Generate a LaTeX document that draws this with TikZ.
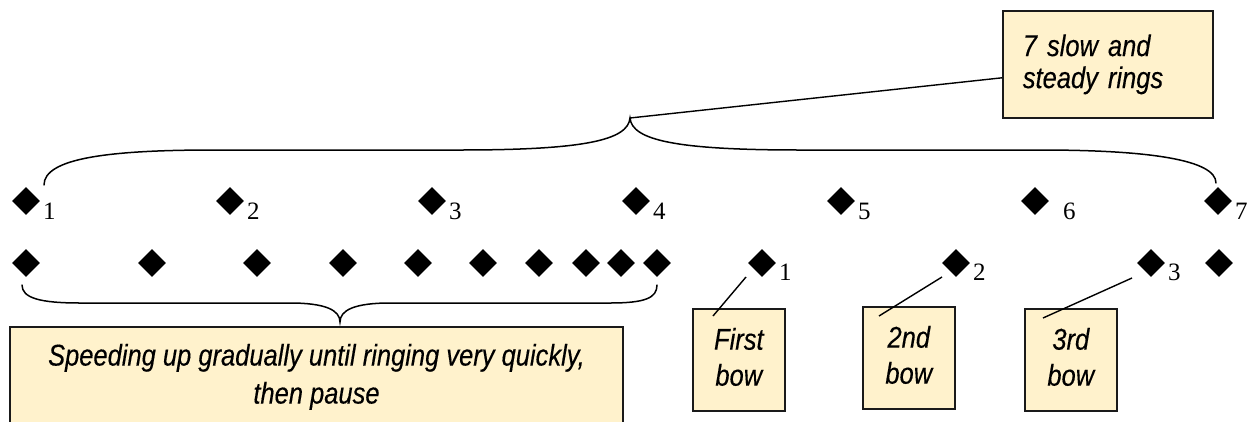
\documentclass[tikz,border=0pt]{standalone}
\usepackage{fontspec}
\usetikzlibrary{shapes.geometric,calc}
\newfontfamily\boxfont[FakeStretch=0.85,FakeBold=0.3]{Liberation Sans}
\newfontfamily\numfont{Liberation Serif}
\definecolor{notefill}{HTML}{FFF2CC}
\definecolor{noteline}{HTML}{1A1A1A}
\tikzset{
  dia/.style={diamond, fill=black, draw=none, inner sep=0pt, minimum width=28pt, minimum height=28pt, shape aspect=1},
  num/.style={font=\numfont\fontsize{25pt}{28pt}\selectfont, inner sep=0pt, anchor=base west},
  note/.style={draw=noteline, fill=notefill, line width=1.6pt, font=\boxfont\itshape\fontsize{30pt}{38pt}\selectfont},
  bow/.style={note, minimum width=92pt, minimum height=102pt, align=center, anchor=north west, inner sep=0pt, text depth=6pt, font=\boxfont\itshape\fontsize{30pt}{36pt}\selectfont},
  conn/.style={line width=1.4pt, black},
  brace/.style={line width=1.5pt, black, line cap=round}
}
\begin{document}
\begin{tikzpicture}[x=1pt, y=-1pt]
\useasboundingbox (0,0) rectangle (1251,421);
\clip (0,0) rectangle (1251,421);
% top row diamonds
\foreach \n/\x in {1/26,2/230,3/432,4/636,5/841,6/1035,7/1218}
  \node[dia] (t\n) at (\x,201) {};
\foreach \n in {1,2,3,4,5,7}
  \node[num] (tl\n) at ([shift={(17,18)}]t\n.center) {\n};
\node[num] (tl6) at ([shift={(28,18)}]t6.center) {6};
% bottom row diamonds
\foreach \n/\x in {1/26,2/152,3/257,4/343,5/418,6/483,7/539,8/586,9/621,10/657,11/762,12/956,13/1151,14/1219}
  \node[dia] (b\n) at (\x,263) {};
\node[num] (bl1) at ([shift={(17,17)}]b11.center) {1};
\node[num] (bl2) at ([shift={(17,17)}]b12.center) {2};
\node[num] (bl3) at ([shift={(17,17)}]b13.center) {3};
% top note
\node[note, anchor=north west, minimum width=210pt, minimum height=107pt, text width=170pt, inner xsep=20pt, inner ysep=0pt, align=left,
      font=\boxfont\itshape\fontsize{30pt}{32pt}\selectfont] (topbox) at (1002,10) {7 slow and\\steady rings};
% top brace
\coordinate (ttip) at (630,118);
\coordinate (tl) at (44,185);
\coordinate (tr) at (1216,183);
\draw[brace] (tl) .. controls (44,158) and (110,150) .. (214,150) -- (460,150)
  .. controls (585,150) and (628,140) .. (ttip)
  .. controls (632,140) and (675,150) .. (800,150) -- (1040,150)
  .. controls (1150,150) and (1216,160) .. (tr);
\coordinate (tbc) at ([shift={(0,13.5)}]topbox.west);
\draw[conn] (tbc) -- (ttip);
% bottom brace
\coordinate (bl) at (22,285);
\coordinate (br) at (657,285);
\coordinate (btip) at (340,322);
\draw[brace] (bl) .. controls (22,298) and (40,303) .. (80,303) -- (290,303)
  .. controls (325,303) and (340,310) .. (btip)
  .. controls (340,310) and (355,303) .. (390,303) -- (610,303)
  .. controls (645,303) and (657,298) .. (br);
% bottom note
\node[note, anchor=north, minimum width=613pt, inner xsep=0pt, inner ysep=17pt, align=center] (speed) at (316.5,326)
  {Speeding up gradually until ringing very quickly,\\then pause};
% bow notes
\node[bow] (bow1) at (692,308) {First\\bow};
\node[bow] (bow2) at (862,306) {2nd\\bow};
\node[bow] (bow3) at (1024,308) {3rd\\bow};
\coordinate (s1) at ([shift={(21,8)}]bow1.north west);
\coordinate (s2) at ([shift={(17,10)}]bow2.north west);
\coordinate (s3) at ([shift={(19,10)}]bow3.north west);
\coordinate (e1) at ([shift={(-16,14)}]b11.center);
\coordinate (e2) at ([shift={(-14,14)}]b12.center);
\coordinate (e3) at ([shift={(-19,15)}]b13.center);
\draw[conn] (s1) -- (e1);
\draw[conn] (s2) -- (e2);
\draw[conn] (s3) -- (e3);
\end{tikzpicture}
\end{document}
